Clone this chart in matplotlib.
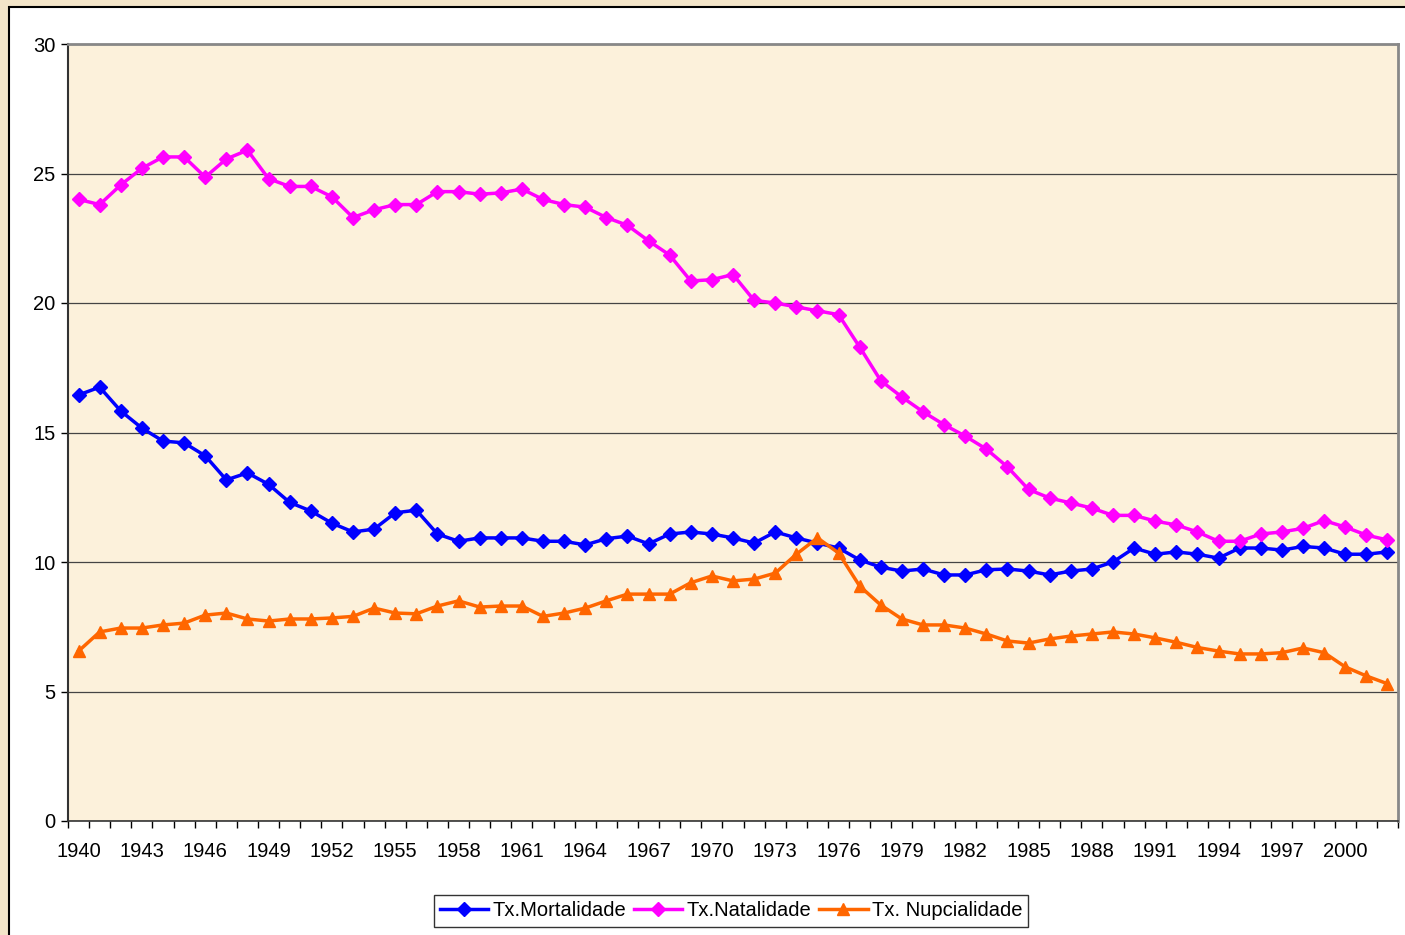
import numpy as np
import matplotlib
matplotlib.use("Agg")
import matplotlib.pyplot as plt
from matplotlib.patches import Rectangle
from matplotlib.ticker import FixedLocator, NullFormatter

plt.rcParams['font.family'] = ['Liberation Sans', 'DejaVu Sans']

years = list(range(1940, 2003))

mortalidade = [16.45, 16.75, 15.83, 15.17, 14.67, 14.6, 14.1, 13.17, 13.44, 13.0,
               12.3, 11.97, 11.5, 11.16, 11.27, 11.9, 12.0, 11.08, 10.8, 10.93,
               10.93, 10.93, 10.8, 10.8, 10.66, 10.9, 11.0, 10.7, 11.08, 11.16,
               11.08, 10.93, 10.73, 11.16, 10.93, 10.73, 10.54, 10.08, 9.8, 9.65,
               9.73, 9.5, 9.5, 9.7, 9.73, 9.65, 9.5, 9.65, 9.73, 10.0,
               10.54, 10.3, 10.39, 10.3, 10.15, 10.54, 10.54, 10.46, 10.6, 10.54,
               10.3, 10.3, 10.39]

natalidade = [24.0, 23.8, 24.56, 25.2, 25.64, 25.64, 24.86, 25.56, 25.9, 24.8,
              24.5, 24.5, 24.1, 23.3, 23.6, 23.8, 23.8, 24.3, 24.3, 24.2,
              24.25, 24.4, 24.0, 23.8, 23.7, 23.3, 23.0, 22.4, 21.85, 20.85,
              20.9, 21.1, 20.1, 20.0, 19.85, 19.7, 19.55, 18.3, 17.0, 16.37,
              15.8, 15.3, 14.86, 14.36, 13.67, 12.8, 12.47, 12.28, 12.08, 11.8,
              11.8, 11.58, 11.43, 11.16, 10.8, 10.8, 11.08, 11.16, 11.3, 11.6,
              11.35, 11.04, 10.85]

nupcialidade = [6.56, 7.3, 7.45, 7.45, 7.57, 7.64, 7.95, 8.03, 7.8, 7.72,
                7.8, 7.8, 7.84, 7.9, 8.22, 8.03, 8.0, 8.3, 8.5, 8.26,
                8.3, 8.3, 7.9, 8.03, 8.22, 8.5, 8.76, 8.76, 8.76, 9.2,
                9.46, 9.27, 9.34, 9.57, 10.3, 10.93, 10.35, 9.07, 8.34, 7.8,
                7.57, 7.57, 7.45, 7.22, 6.95, 6.87, 7.03, 7.14, 7.22, 7.3,
                7.22, 7.07, 6.9, 6.7, 6.56, 6.45, 6.45, 6.5, 6.68, 6.5,
                5.95, 5.6, 5.3]

W, H = 1405, 935
fig = plt.figure(figsize=(W / 100, H / 100), dpi=100)
fig.patch.set_facecolor('#F3E5C9')

# white chart area with black frame, behind the axes
frame = Rectangle((9 / W, -0.01), 1.02, 1 - 7 / H + 0.01,
                  transform=fig.transFigure, facecolor='white',
                  edgecolor='black', linewidth=1.5, zorder=-5)
fig.patches.append(frame)

ax = fig.add_axes([68 / W, (H - 821) / H, (1398 - 68) / W, (821 - 44) / H])
ax.set_facecolor('#FCF1DB')

x = np.arange(len(years))
ax.plot(x, mortalidade, color='#0000FF', lw=2.5, marker='D', ms=7.5,
        label='Tx.Mortalidade', zorder=3)
ax.plot(x, natalidade, color='#FF00FF', lw=2.5, marker='D', ms=7.5,
        label='Tx.Natalidade', zorder=3)
ax.plot(x, nupcialidade, color='#FF6600', lw=2.5, marker='^', ms=9,
        label='Tx. Nupcialidade', zorder=3)

ax.set_xlim(-0.5, len(years) - 0.5)
ax.set_ylim(0, 30)
ax.set_yticks(range(0, 31, 5))
ax.yaxis.grid(True, color='#444444', lw=0.9)
ax.set_axisbelow(True)

ax.set_xticks(x[::3])
ax.set_xticklabels([str(y) for y in years[::3]])
ax.xaxis.set_minor_locator(FixedLocator(np.arange(-0.5, len(years), 1)))
ax.xaxis.set_minor_formatter(NullFormatter())
ax.tick_params(axis='x', which='major', length=0, pad=15, labelsize=14.5)
ax.tick_params(axis='x', which='minor', length=5, width=1, direction='out')
ax.tick_params(axis='y', length=5, width=1, direction='out', labelsize=14.5, pad=4)

for s in ['top', 'right']:
    ax.spines[s].set_color('#888888')
    ax.spines[s].set_linewidth(2)
ax.spines['left'].set_color('#333333')
ax.spines['left'].set_linewidth(1.5)
ax.spines['bottom'].set_color('#333333')
ax.spines['bottom'].set_linewidth(1.2)

leg = fig.legend(loc='center', bbox_to_anchor=(731 / W, 1 - 911 / H), ncol=3,
                 fontsize=14.5, frameon=True, fancybox=False, handlelength=2.4,
                 handletextpad=0.2, columnspacing=0.4, borderpad=0.3,
                 borderaxespad=0.2)
leg.get_frame().set_edgecolor('black')
leg.get_frame().set_linewidth(1)
leg.get_frame().set_facecolor('white')

fig.savefig('out.png', dpi=100, facecolor=fig.get_facecolor())
